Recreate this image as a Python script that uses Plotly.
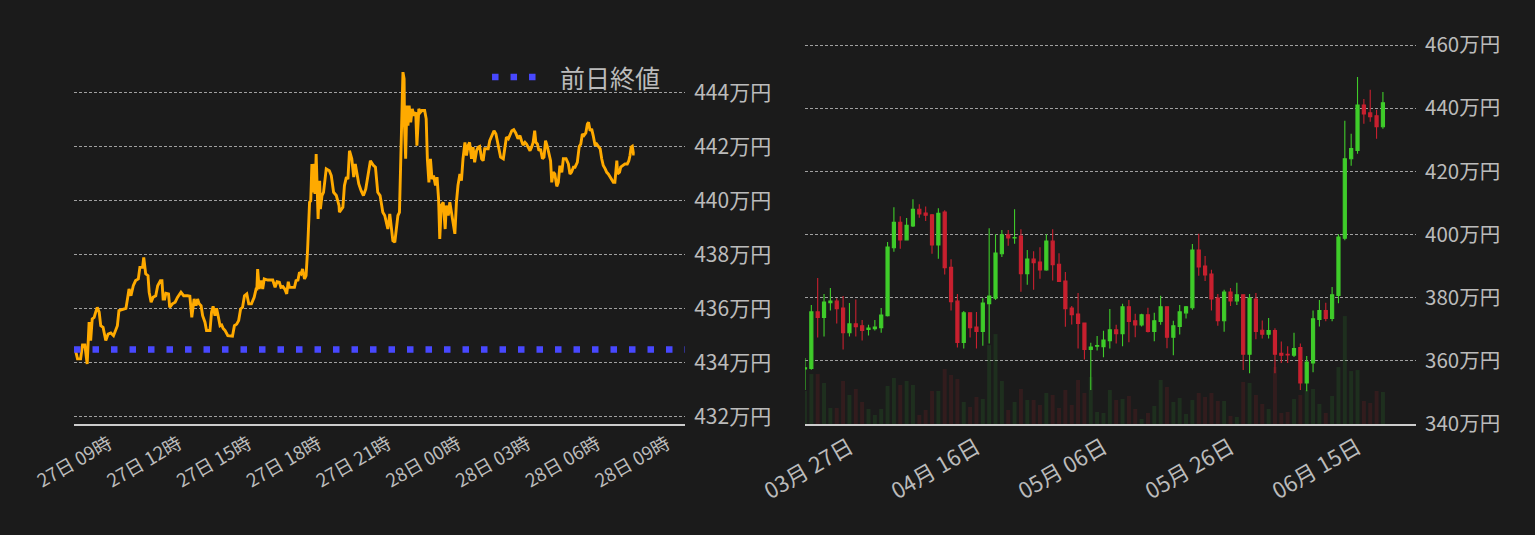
import pandas as pd
import plotly.graph_objects as go

# ---------------- data ----------------
# Intraday line (left): minutes after 27日 07:30 and price (万円)
minutes_a = [3, 9, 17, 22, 28, 34, 39, 43, 47, 52,
             56, 60, 65, 69, 75, 80, 82, 88, 95, 102,
             108, 112, 116, 125, 134, 138, 142, 147, 153, 159,
             166, 170, 177, 180, 185, 191, 194, 199, 204, 211,
             216, 223, 227, 230, 234, 237, 244, 247, 254, 261,
             267, 276, 283, 293, 299, 304, 310, 315, 319, 323,
             328, 332, 338, 342, 351, 355, 359, 364, 368, 372,
             377, 381, 385, 390, 397, 409, 414, 420, 425, 430,
             435, 440, 446, 451, 458, 465, 470, 472, 474, 478,
             483, 487, 491, 500, 513, 519, 524, 530, 534, 539,
             544, 549, 553, 556, 569, 573, 578, 582, 586, 590,
             595, 599, 603, 608, 611, 614, 616, 620, 622, 625,
             630, 634, 636, 640, 644, 651, 659, 664, 670, 677,
             684]
prices_a = [434.52, 434.15, 434.15, 434.67, 434.67, 433.96, 435.51, 434.83, 435.63, 435.69,
            435.88, 436.06, 435.88, 435.38, 435.32, 434.89, 434.83, 435.07, 435.11, 435.01,
            435.20, 435.38, 435.94, 435.98, 436.02, 436.37, 436.74, 436.49, 436.86, 437.05,
            437.11, 437.54, 437.54, 437.91, 437.30, 437.23, 436.62, 436.25, 436.43, 436.49,
            436.86, 437.05, 437.05, 436.37, 436.37, 436.58, 436.56, 436.06, 436.19, 436.25,
            436.43, 436.62, 436.49, 436.49, 436.47, 435.69, 436.37, 436.12, 436.37, 436.19,
            436.12, 435.75, 435.51, 435.20, 435.20, 435.88, 436.10, 435.75, 436.02, 435.75,
            435.38, 435.41, 435.28, 435.20, 435.01, 434.99, 435.38, 435.44, 435.57, 436.00,
            436.06, 436.49, 436.56, 436.19, 436.19, 436.43, 436.74, 436.74, 437.48, 436.74,
            437.05, 436.74, 437.11, 437.07, 437.07, 436.80, 437.01, 436.99, 436.80, 436.83,
            436.74, 436.56, 437.01, 436.80, 436.80, 437.05, 437.07, 437.36, 437.30, 437.48,
            437.11, 437.23, 438.22, 439.95, 440.01, 441.37, 440.32, 441.37, 440.26, 441.74,
            439.33, 440.75, 439.70, 440.20, 440.32, 441.19, 441.12, 440.94, 440.32, 440.20,
            439.83]
minutes_b = [685, 694, 698, 703, 707, 711, 717, 722, 726, 730,
             735, 741, 747, 753, 759, 765, 772, 778, 784, 790,
             797, 802, 806, 810, 815, 819, 823, 828, 832, 836,
             840, 845, 847, 849, 852, 853, 856, 859, 862, 865,
             869, 873, 877, 882, 885, 890, 894, 898, 905, 909,
             912, 916, 920, 924, 928, 933, 937, 941, 944, 948,
             953, 958, 961, 966, 970, 974, 978, 983, 987, 991,
             996, 1000, 1004, 1009, 1013, 1017, 1021, 1026, 1030, 1034,
             1039, 1043, 1047, 1052, 1056, 1060, 1065, 1069, 1073, 1079,
             1084, 1089, 1095, 1101, 1108, 1112, 1116, 1121, 1125, 1130,
             1135, 1140, 1146, 1151, 1155, 1159, 1164, 1168, 1172, 1177,
             1181, 1185, 1189, 1192, 1196, 1200, 1204, 1209, 1213, 1217,
             1222, 1226, 1230, 1233, 1237, 1241, 1246, 1250, 1254, 1259,
             1263, 1270, 1276, 1280, 1284, 1289, 1293, 1299, 1304, 1308,
             1312, 1316, 1321, 1325, 1328, 1332, 1336, 1340, 1345, 1349,
             1353, 1358, 1362, 1366, 1371, 1375, 1379, 1384, 1388, 1392,
             1396, 1401, 1403, 1408, 1411, 1416, 1422, 1428, 1432, 1435,
             1438, 1441, 1444, 1447]
prices_b = [439.58, 439.77, 440.57, 440.88, 440.81, 441.86, 441.56, 440.88, 441.37, 441.06,
            440.63, 440.38, 440.20, 440.44, 441.00, 441.49, 441.33, 441.25, 440.32, 440.20,
            439.58, 439.46, 439.21, 438.96, 439.52, 439.02, 438.53, 438.47, 438.96, 439.46,
            439.58, 442.79, 444.33, 444.77, 444.52, 442.79, 441.56, 443.53, 442.79, 443.53,
            442.91, 443.41, 443.16, 443.28, 442.05, 443.41, 443.28, 443.35, 443.35, 443.04,
            441.56, 440.69, 441.56, 440.81, 440.94, 440.57, 440.88, 440.07, 438.59, 439.83,
            439.95, 438.96, 439.83, 439.46, 439.95, 439.58, 439.09, 438.78, 439.95, 440.57,
            441.00, 440.75, 441.56, 442.17, 441.68, 442.05, 442.17, 441.56, 441.99, 441.43,
            441.86, 441.99, 442.02, 441.56, 441.49, 441.93, 441.93, 441.93, 442.23, 442.42,
            442.60, 442.48, 441.99, 441.62, 441.56, 442.05, 442.36, 442.30, 442.42, 442.60,
            442.64, 442.52, 442.30, 442.42, 442.23, 442.07, 442.17, 442.11, 441.99, 441.86,
            441.99, 442.17, 442.60, 442.17, 442.11, 441.86, 441.93, 441.56, 441.62, 442.23,
            441.99, 441.74, 441.49, 440.69, 441.06, 441.00, 440.54, 440.69, 441.31, 441.06,
            441.56, 441.56, 441.37, 441.00, 441.06, 441.25, 441.25, 441.43, 442.02, 442.11,
            442.48, 442.42, 442.52, 442.85, 442.91, 442.60, 442.67, 442.42, 442.05, 442.11,
            442.02, 441.93, 441.56, 441.31, 441.19, 441.06, 441.00, 440.88, 440.75, 440.69,
            440.69, 441.49, 441.00, 441.06, 441.25, 441.31, 441.37, 441.37, 441.49, 441.68,
            441.99, 442.02, 441.74, 441.74]
prev_close = 434.5
intraday_start = "2023-06-27 07:30"
intraday_end = "2023-06-28 09:47"
left_ticks = [432, 434, 436, 438, 440, 442, 444]

# Daily candles (right), first day 03/20
candle_start = "2023-03-20"
opens = [357.4, 357.6, 375.5, 373.7, 378.4, 378.9, 376.7, 368.9, 371.7, 371.1,
         369.9, 370.2, 370.5, 374.3, 395.8, 403.9, 398.3, 402.7, 408.0, 406.8,
         406.2, 396.7, 407.1, 389.6, 378.9, 365.8, 375.2, 370.7, 369.3, 378.1,
         379.8, 393.9, 399.9, 398.9, 399.5, 387.6, 392.2, 391.3, 388.8, 397.9,
         390.6, 385.3, 376.7, 374.8, 372.0, 363.6, 364.6, 364.5, 366.4, 369.8,
         368.6, 377.1, 372.7, 371.4, 374.6, 369.3, 372.5, 377.1, 367.5, 370.9,
         375.2, 376.8, 395.1, 390.0, 387.5, 379.9, 372.7, 381.8, 379.0, 380.9,
         362.1, 379.6, 369.7, 368.4, 369.6, 362.4, 362.1, 361.8, 364.2, 353.0,
         359.3, 373.1, 375.9, 373.4, 380.7, 398.8, 424.0, 426.6, 441.0, 438.5,
         437.6, 434.1]
highs = [360.9, 377.7, 386.2, 381.2, 383.1, 379.8, 380.5, 378.3, 379.4, 372.9,
         371.4, 372.9, 376.7, 397.6, 408.6, 405.8, 405.2, 411.2, 409.6, 408.9,
         406.5, 408.3, 407.7, 392.2, 381.2, 375.8, 375.2, 375.5, 379.8, 402.0,
         400.1, 401.4, 401.4, 408.0, 401.7, 395.1, 394.7, 396.0, 400.1, 401.7,
         394.1, 388.1, 377.4, 381.5, 372.0, 365.7, 367.9, 369.5, 376.4, 371.4,
         378.1, 379.3, 374.9, 374.9, 376.8, 375.2, 380.6, 377.1, 372.7, 377.7,
         377.4, 397.0, 400.2, 393.2, 388.8, 381.2, 382.5, 383.1, 384.7, 380.9,
         381.2, 381.5, 372.8, 373.6, 370.3, 366.1, 364.6, 368.9, 365.5, 361.5,
         375.9, 379.3, 378.4, 383.4, 400.1, 436.0, 431.9, 449.9, 442.9, 445.8,
         439.5, 445.1]
lows = [350.8, 357.2, 367.4, 367.7, 375.9, 371.8, 363.6, 367.7, 367.7, 366.4,
        368.0, 369.6, 368.9, 374.0, 394.5, 395.5, 398.3, 402.4, 405.3, 404.3,
        393.9, 392.3, 387.3, 375.9, 364.2, 363.9, 367.4, 363.9, 364.8, 365.5,
        379.3, 392.9, 396.4, 397.1, 381.9, 384.1, 382.5, 386.0, 388.5, 385.4,
        385.1, 370.8, 371.5, 363.9, 360.4, 350.8, 363.3, 361.1, 363.9, 365.5,
        364.6, 365.9, 367.5, 370.9, 369.0, 366.2, 371.4, 364.0, 361.8, 368.3,
        373.4, 376.2, 386.9, 385.3, 375.9, 371.1, 369.2, 377.4, 377.7, 357.1,
        356.1, 366.8, 367.1, 367.1, 356.1, 359.3, 359.3, 361.2, 350.8, 350.4,
        356.4, 370.9, 372.5, 372.5, 378.2, 398.2, 421.8, 425.6, 435.1, 435.7,
        430.3, 433.5]
closes = [357.8, 375.5, 373.7, 378.6, 378.9, 376.5, 368.9, 371.7, 370.8, 369.6,
          370.4, 370.7, 374.5, 396.0, 403.9, 398.3, 402.9, 408.0, 406.5, 406.1,
          396.7, 406.7, 389.5, 378.7, 365.8, 375.2, 370.5, 369.3, 378.3, 380.5,
          394.1, 399.9, 398.9, 399.0, 387.6, 392.2, 391.1, 388.8, 397.9, 390.4,
          385.1, 376.5, 374.6, 371.8, 363.6, 364.4, 364.8, 366.6, 369.8, 368.6,
          377.1, 372.5, 371.4, 374.6, 369.3, 372.7, 377.1, 367.5, 371.1, 375.5,
          377.1, 395.1, 389.7, 387.2, 379.6, 372.7, 381.8, 379.0, 380.9, 362.1,
          379.9, 369.3, 368.4, 369.6, 362.1, 361.8, 361.9, 363.9, 353.0, 359.6,
          373.3, 375.9, 373.4, 380.9, 399.2, 424.0, 427.2, 441.0, 438.2, 437.3,
          434.1, 441.7]
volumes = [33, 50, 50, 41, 16, 16, 43, 29, 35, 22,
           15, 9, 15, 38, 46, 39, 43, 39, 9, 14,
           33, 33, 55, 49, 45, 22, 17, 27, 25, 79,
           90, 43, 14, 22, 35, 24, 24, 19, 31, 29,
           16, 34, 19, 44, 31, 47, 12, 11, 34, 24,
           25, 28, 15, 5, 11, 18, 44, 37, 22, 26,
           10, 24, 31, 27, 31, 23, 23, 8, 7, 42,
           41, 29, 20, 15, 57, 11, 12, 25, 29, 34,
           35, 20, 11, 28, 57, 108, 53, 54, 23, 21,
           33, 32]
candle_end = "2023-06-24 05:00"
right_ticks = [340, 360, 380, 400, 420, 440, 460]

# ---------------- styling ----------------
BG = "#1b1b1b"
TXT = "#bbbbbb"
GRID = "#a0a0a0"
GREEN = "#3fcc2a"
RED = "#c8202f"
FONT = "Noto Sans CJK JP"

n = min(len(minutes_a), len(prices_a))
m = min(len(minutes_b), len(prices_b))
line_min = minutes_a[:n] + minutes_b[:m]
line_prices = prices_a[:n] + prices_b[:m]
t0 = pd.Timestamp(intraday_start)
line_times = [t0 + pd.Timedelta(minutes=v) for v in line_min]

k = min(len(opens), len(highs), len(lows), len(closes), len(volumes))
candle_dates = pd.date_range(candle_start, periods=k, freq="D")
vol_colors = ["rgba(60,200,60,0.12)" if closes[i] >= opens[i] else "rgba(220,40,50,0.12)"
              for i in range(k)]

fig = go.Figure()
fig.add_trace(go.Scatter(x=line_times, y=line_prices, mode="lines",
                         line=dict(color="#ffaa00", width=2.9),
                         showlegend=False, xaxis="x", yaxis="y", hoverinfo="skip"))
fig.add_trace(go.Scatter(x=[intraday_start, intraday_end], y=[prev_close, prev_close],
                         mode="lines", name="前日終値",
                         line=dict(color="#4848ff", width=6.5, dash="6.5px,12px"),
                         showlegend=False, xaxis="x", yaxis="y"))
fig.add_trace(go.Bar(x=candle_dates, y=volumes[:k], marker=dict(color=vol_colors, line=dict(width=0)),
                     width=0.62 * 86400000, xaxis="x2", yaxis="y2", showlegend=False))
fig.add_trace(go.Candlestick(x=candle_dates, open=opens[:k], high=highs[:k], low=lows[:k], close=closes[:k],
                             increasing=dict(line=dict(color=GREEN, width=1.1), fillcolor=GREEN),
                             decreasing=dict(line=dict(color=RED, width=1.1), fillcolor=RED),
                             whiskerwidth=0, xaxis="x2", yaxis="y3", showlegend=False))

# legend entry for the previous close line
fig.add_shape(type="line", xref="paper", yref="paper", x0=0.3115, x1=0.3443, y0=0.8807, y1=0.8807,
              line=dict(color="#4848ff", width=6.5, dash="6.5px,12px"))
fig.add_annotation(text="前日終値", xref="paper", yref="paper", x=0.3606, y=0.8807,
                   xanchor="left", yanchor="middle", showarrow=False,
                   font=dict(family=FONT, size=25, color=TXT))

axis_common = dict(showgrid=False, zeroline=False, automargin=False)
fig.update_layout(
    template="none",
    width=1535, height=535,
    margin=dict(l=74, r=119, t=30, b=111),
    paper_bgcolor=BG, plot_bgcolor=BG,
    font=dict(family=FONT, color=TXT),
    showlegend=False,
    xaxis=dict(domain=[0, 0.4553], range=[intraday_start, intraday_end], type="date",
               tickformat="%d日 %H時", dtick=3 * 3600000, tick0="2023-06-27 00:00",
               tickangle=-30, tickfont=dict(size=18.5, color=TXT),
               showline=True, linecolor="#cccccc", linewidth=2, ticks="", **axis_common),
    yaxis=dict(anchor="x", side="right", range=[431.74, 446.33], tickvals=left_ticks,
               ticktext=[f"{v}万円" for v in left_ticks], tickfont=dict(size=21, color=TXT),
               showgrid=True, gridcolor=GRID, gridwidth=1, griddash="3px,2px",
               ticks="outside", ticklen=4, tickcolor=BG, zeroline=False, automargin=False),
    xaxis2=dict(domain=[0.5447, 1], range=[candle_start, candle_end], type="date",
                tickformat="%m月 %d日", dtick=20 * 86400000, tick0="2023-03-27",
                tickangle=-30, tickfont=dict(size=22, color=TXT), anchor="y2",
                showline=True, linecolor="#cccccc", linewidth=2, ticks="",
                rangeslider=dict(visible=False), **axis_common),
    yaxis2=dict(anchor="x2", range=[0, max(volumes) * 3.65], visible=False,
                showgrid=False, zeroline=False, automargin=False),
    yaxis3=dict(anchor="x2", overlaying="y2", side="right", range=[340, 464.75],
                tickvals=right_ticks, ticktext=[f"{v}万円" for v in right_ticks],
                tickfont=dict(size=20.5, color=TXT),
                showgrid=True, gridcolor=GRID, gridwidth=1, griddash="3px,2px",
                ticks="outside", ticklen=4, tickcolor=BG, zeroline=False, automargin=False),
)

fig.write_html("out.html",
               config={"displayModeBar": False},
               post_script="document.body.style.margin='0';"
                           "document.body.style.background='#1b1b1b';")
